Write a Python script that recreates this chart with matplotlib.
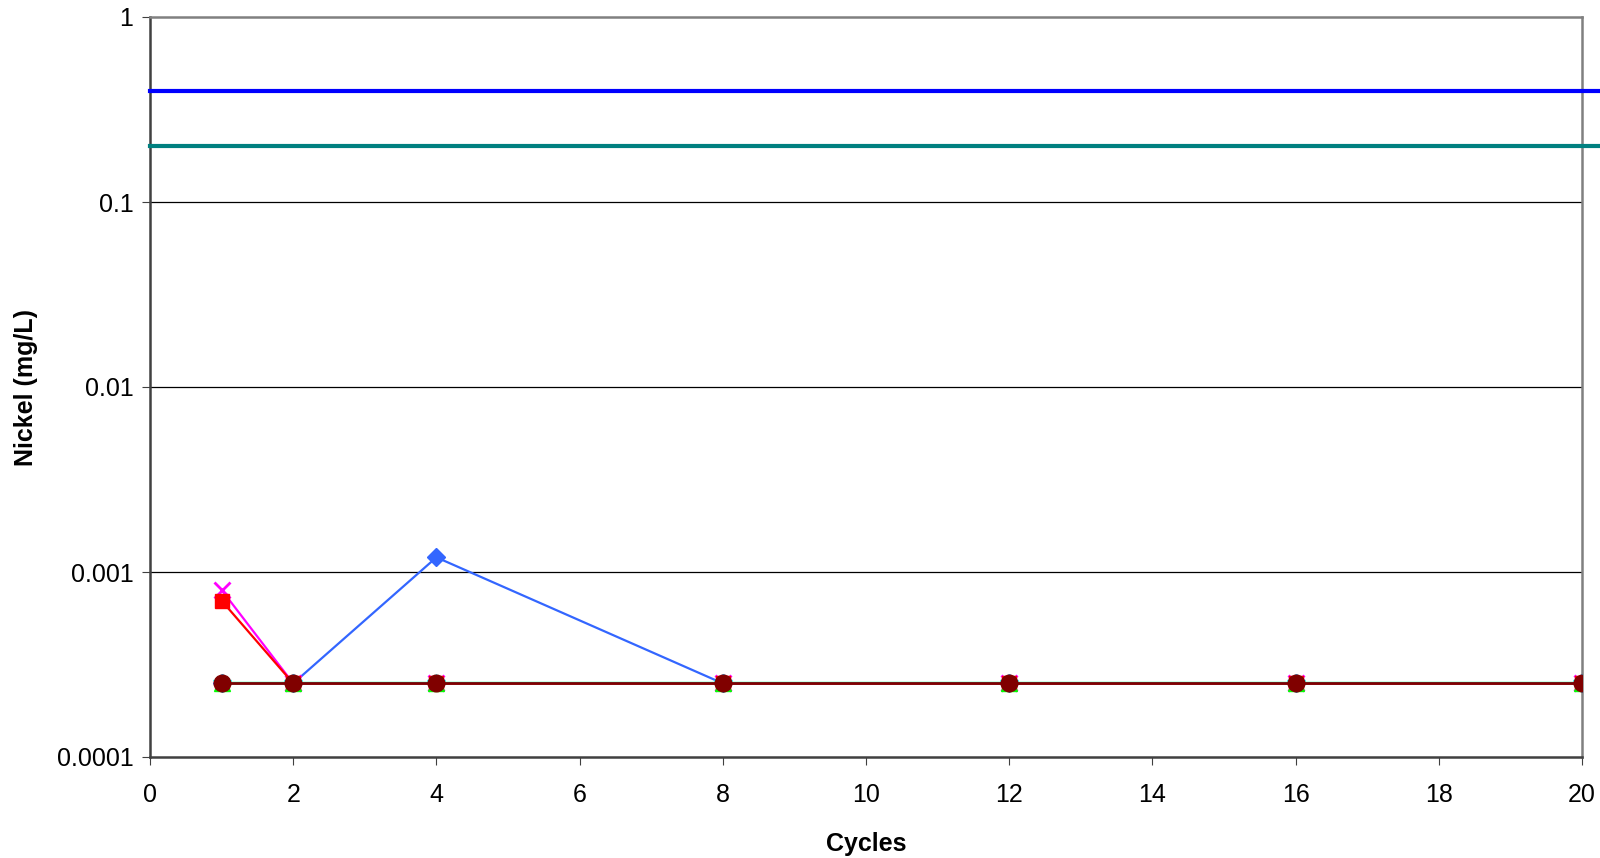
import numpy as np
import matplotlib.pyplot as plt

plt.rcParams['font.family'] = ['Liberation Sans', 'DejaVu Sans']

cycles = [1, 2, 4, 8, 12, 16, 20]
s_diamond = [0.00025, 0.00025, 0.0012, 0.00025, 0.00025, 0.00025, 0.00025]
s_square = [0.0007, 0.00025, 0.00025, 0.00025, 0.00025, 0.00025, 0.00025]
s_cross = [0.0008, 0.00025, 0.00025, 0.00025, 0.00025, 0.00025, 0.00025]
s_triangle = [0.00025] * 7
s_star = [0.00025] * 7
s_circle = [0.00025] * 7
limit_hi = 0.4
limit_lo = 0.2

fig = plt.figure(figsize=(16, 8.58), dpi=100)
ax = fig.add_axes([150 / 1600, 1 - 757 / 858, (1582 - 150) / 1600, (757 - 17) / 858])

ax.set_yscale('log')
ax.set_ylim(0.0001, 1)
ax.set_xlim(0, 20)

for y in [0.001, 0.01, 0.1]:
    ax.axhline(y, color='black', lw=0.9, zorder=1)

ax.plot([0, 20.25], [limit_hi, limit_hi], color='#0000FF', lw=3, clip_on=False, zorder=3)
ax.plot([0, 20.25], [limit_lo, limit_lo], color='#008080', lw=3, clip_on=False, zorder=3)

ax.plot(cycles, s_diamond, color='#3366FF', lw=1.6, marker='D', ms=9, zorder=4)
ax.plot(cycles, s_cross, color='#FF00FF', lw=1.6, marker='x', ms=11, mew=2, zorder=4)
ax.plot(cycles, s_square, color='#FF0000', lw=1.6, marker='s', ms=10, zorder=4)
ax.plot(cycles, s_triangle, color='#00FF00', lw=1.6, marker='^', ms=11, zorder=4)
ax.plot(cycles, s_star, color='#00FFFF', lw=1.6, marker='*', ms=13, zorder=4)
ax.plot(cycles, s_circle, color='#800000', lw=2, marker='o', ms=12, zorder=5)

ax.set_xticks(range(0, 21, 2))
ax.set_yticks([0.0001, 0.001, 0.01, 0.1, 1])
ax.set_yticklabels(['0.0001', '0.001', '0.01', '0.1', '1'])
ax.minorticks_off()
ax.tick_params(axis='both', labelsize=18, direction='out', length=6, color='#404040')
ax.tick_params(axis='y', pad=6)
ax.tick_params(axis='x', pad=13)

for side in ['left', 'bottom']:
    ax.spines[side].set_color('#404040')
    ax.spines[side].set_linewidth(1.8)
for side in ['top', 'right']:
    ax.spines[side].set_color('#808080')
    ax.spines[side].set_linewidth(1.8)

ax.set_xlabel('Cycles', fontsize=18, fontweight='bold')
ax.set_ylabel('Nickel (mg/L)', fontsize=18, fontweight='bold')
ax.xaxis.set_label_coords(0.5, -0.101)
ax.yaxis.set_label_coords(-0.078, 0.5)

fig.savefig('out.png', dpi=100)
